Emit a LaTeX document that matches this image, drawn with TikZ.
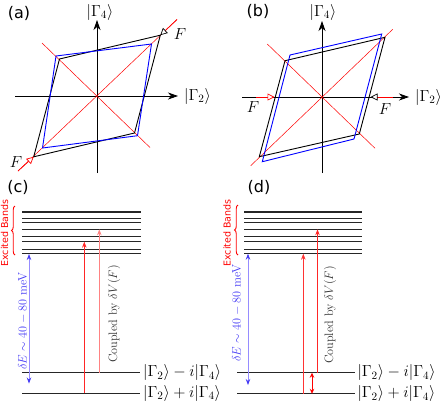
\RequirePackage{fix-cm}
\documentclass[tikz,border=0pt]{standalone}
\usepackage{fontspec}
\newfontfamily\labelfont{DejaVu Sans}
\usetikzlibrary{arrows.meta,decorations.pathreplacing}
\definecolor{bandblue}{RGB}{70,60,245}
\definecolor{paleblue}{RGB}{150,140,255}
\definecolor{palered}{RGB}{255,130,130}
\begin{document}
\begin{tikzpicture}[x=1pt,y=-1pt,
  axis/.style={line width=0.8pt,-{Stealth[length=10pt,width=7pt,inset=3pt]}},
  diag/.style={red,line width=0.5pt},
  blk/.style={line width=0.9pt,line join=miter},
  blu/.style={blue,line width=0.9pt,line join=miter},
  mathlbl/.style={font=\fontsize{16}{19}\selectfont,inner sep=0pt},
  panel/.style={font=\labelfont\fontsize{16}{19}\selectfont,inner sep=0pt},
  band/.style={line width=1.1pt,black!85},
  forceR/.style={red,line width=0.7pt,-{Triangle[length=7pt,width=7pt,fill=white]}},
  forceK/.style={red,line width=0.7pt,-{Triangle[length=7pt,width=7pt,fill=white,color=black]}},
  exc/.style={red,font=\labelfont\fontsize{9.5}{11}\selectfont,rotate=90,inner sep=0pt},
  coup/.style={black!80,font=\fontsize{12.2}{14}\selectfont,rotate=90,inner sep=0pt},
  gap/.style={bandblue,font=\fontsize{12.2}{14}\selectfont,rotate=90,inner sep=0pt},
  gaparrow/.style={paleblue,line width=0.8pt,{Stealth[length=6pt,width=4.5pt,color=bandblue]}-{Stealth[length=6pt,width=4.5pt,color=bandblue]}},
  exarrow/.style={line width=0.8pt,-{Stealth[length=6pt,width=4.5pt]}},
  brc/.style={red,line width=0.9pt,decorate,decoration={brace,amplitude=3.5pt}}
]
\useasboundingbox (0,0) rectangle (443,405);

% ---------------- panel (a)
\node[panel] (la) at (19,13) {(a)};
\begin{scope}[shift={(97,96)}]
  \coordinate (a-xs) at (-82,0); \coordinate (a-xe) at (81,0);
  \coordinate (a-ys) at (0,77);  \coordinate (a-ye) at (0,-76);
  \draw[axis] (a-xs) -- (a-xe);
  \draw[axis] (a-ys) -- (a-ye);
  \node[mathlbl,anchor=west] (a-xl) at ([xshift=6pt]a-xe) {$|\Gamma_2\rangle$};
  \node[mathlbl] (a-yl) at (3,-84) {$|\Gamma_4\rangle$};
  \coordinate (a-d1) at (-79,75); \coordinate (a-d2) at (80,-76.5);
  \coordinate (a-e1) at (-55,-53); \coordinate (a-e2) at (53,51.5);
  \draw[diag] (a-d1) -- (a-d2);
  \draw[diag] (a-e1) -- (a-e2);
  \coordinate (a-kUR) at (63.3,-60.8); \coordinate (a-kUL) at (-37.5,-37);
  \coordinate (a-kLL) at (-63.3,60.8); \coordinate (a-kLR) at (37.5,37);
  \coordinate (a-bUR) at (54.5,-52);   \coordinate (a-bUL) at (-41,-40);
  \coordinate (a-bLL) at (-54.5,52);   \coordinate (a-bLR) at (40.5,39.7);
  \draw[blk] (a-kUR) -- (a-kUL) -- (a-kLL) -- (a-kLR) -- cycle;
  \draw[blu] (a-bUR) -- (a-bUL) -- (a-bLL) -- (a-bLR) -- cycle;
  \draw[forceK] (a-d2) -- (a-kUR);
  \draw[forceR] (a-d1) -- (a-kLL);
  \node[mathlbl] (a-F1) at (83,-62) {$F$};
  \node[mathlbl] (a-F2) at (-81,66) {$F$};
\end{scope}

% ---------------- panel (b)
\node[panel] (lb) at (258,11) {(b)};
\begin{scope}[shift={(322,97)}]
  \coordinate (b-xs) at (-80,0); \coordinate (b-xe) at (87,0);
  \coordinate (b-ys) at (0,76);  \coordinate (b-ye) at (0,-76);
  \draw[axis] (b-xs) -- (b-xe);
  \draw[axis] (b-ys) -- (b-ye);
  \node[mathlbl,anchor=west] (b-xl) at ([xshift=6pt]b-xe) {$|\Gamma_2\rangle$};
  \node[mathlbl] (b-yl) at (1,-85) {$|\Gamma_4\rangle$};
  \coordinate (b-d1) at (-71.3,68.7); \coordinate (b-d2) at (70.7,-67.7);
  \coordinate (b-e1) at (-54.7,-53);  \coordinate (b-e2) at (53,51.3);
  \draw[diag] (b-d1) -- (b-d2);
  \draw[diag] (b-e1) -- (b-e2);
  \coordinate (b-kUR) at (63,-59.7);  \coordinate (b-kUL) at (-37,-36.3);
  \coordinate (b-kLL) at (-62.7,59.7); \coordinate (b-kLR) at (37.3,37);
  \coordinate (b-bUR) at (59.7,-63);  \coordinate (b-bUL) at (-32,-42);
  \coordinate (b-bLL) at (-59.7,64.7); \coordinate (b-bLR) at (32,42);
  \draw[blk] (b-kUR) -- (b-kUL) -- (b-kLL) -- (b-kLR) -- cycle;
  \draw[blu] (b-bUR) -- (b-bUL) -- (b-bLL) -- (b-bLR) -- cycle;
  \coordinate (b-f1s) at (-66,0); \coordinate (b-f1e) at (-47.5,0);
  \coordinate (b-f2s) at (71,0);  \coordinate (b-f2e) at (48.5,0);
  \draw[forceR] (b-f1s) -- (b-f1e);
  \draw[forceK] (b-f2s) -- (b-f2e);
  \node[mathlbl] (b-F1) at (-69,10) {$F$};
  \node[mathlbl] (b-F2) at (63,12) {$F$};
\end{scope}

% ---------------- panel (c)
\node[panel] (lc) at (18,187) {(c)};
\foreach \y in {212,218.3,222.3,229.3,236.3,241.7,249.3,253.7}
  \draw[band] (22.3,\y) -- (141,\y);
\coordinate (c-g1a) at (22.3,372.7); \coordinate (c-g1b) at (140,372.7);
\coordinate (c-g2a) at (22.3,393.3); \coordinate (c-g2b) at (140,393.3);
\draw[band] (c-g1a) -- (c-g1b);
\draw[band] (c-g2a) -- (c-g2b);
\node[mathlbl,anchor=west] (c-l1) at ([xshift=3pt]c-g1b) {$|\Gamma_2\rangle-i|\Gamma_4\rangle$};
\node[mathlbl,anchor=west] (c-l2) at ([xshift=3pt]c-g2b) {$|\Gamma_2\rangle+i|\Gamma_4\rangle$};
\draw[brc] (15,255) -- (15,206);
\node[exc] (c-ex) at (4.5,233) {Excited Bands};
\coordinate (c-gt) at (29,254); \coordinate (c-gb) at (29,383.5);
\draw[gaparrow] (c-gb) -- (c-gt);
\node[gap] (c-gl) at (23,321) {$\delta E\sim 40-80$ meV};
\coordinate (c-r1s) at (84.3,393.3); \coordinate (c-r1e) at (84.3,241.7);
\coordinate (c-r2s) at (99.3,372.7); \coordinate (c-r2e) at (99.3,229.3);
\draw[exarrow,red!85] (c-r1s) -- (c-r1e);
\draw[exarrow,palered] (c-r2s) -- (c-r2e);
\node[coup] (c-cp) at (114,314) {Coupled by $\delta V(F)$};

% ---------------- panel (d)
\node[panel] (ld) at (259,187) {(d)};
\foreach \y in {212,218.3,222.3,229.3,236.3,241.7,249.3,253.7}
  \draw[band] (244.3,\y) -- (362.3,\y);
\coordinate (d-g1a) at (237,372.7); \coordinate (d-g1b) at (355.3,372.7);
\coordinate (d-g2a) at (237,393.8); \coordinate (d-g2b) at (355.3,393.8);
\draw[band] (d-g1a) -- (d-g1b);
\draw[band] (d-g2a) -- (d-g2b);
\node[mathlbl,anchor=west] (d-l1) at ([xshift=2pt]d-g1b) {$|\Gamma_2\rangle-i|\Gamma_4\rangle$};
\node[mathlbl,anchor=west] (d-l2) at ([xshift=2pt]d-g2b) {$|\Gamma_2\rangle+i|\Gamma_4\rangle$};
\draw[brc] (238,255) -- (238,205);
\node[exc] (d-ex) at (227,233) {Excited Bands};
\coordinate (d-gt) at (248,253.7); \coordinate (d-gb) at (248,385);
\draw[gaparrow] (d-gb) -- (d-gt);
\node[gap] (d-gl) at (237,313) {$\delta E\sim 40-80$ meV};
\coordinate (d-r1s) at (303.3,393.8); \coordinate (d-r1e) at (303.3,253.7);
\coordinate (d-r2s) at (317.5,372.7); \coordinate (d-r2e) at (317.5,229.3);
\draw[exarrow,red!80] (d-r1s) -- (d-r1e);
\draw[exarrow,red!85] (d-r2s) -- (d-r2e);
\coordinate (d-st) at (312,372.7); \coordinate (d-sb) at (312,393.8);
\draw[red,line width=0.8pt,{Stealth[length=5pt,width=4.5pt]}-{Stealth[length=5pt,width=4.5pt]}] (d-sb) -- (d-st);
\node[coup] (d-cp) at (330,315) {Coupled by $\delta V(F)$};
\end{tikzpicture}
\end{document}
